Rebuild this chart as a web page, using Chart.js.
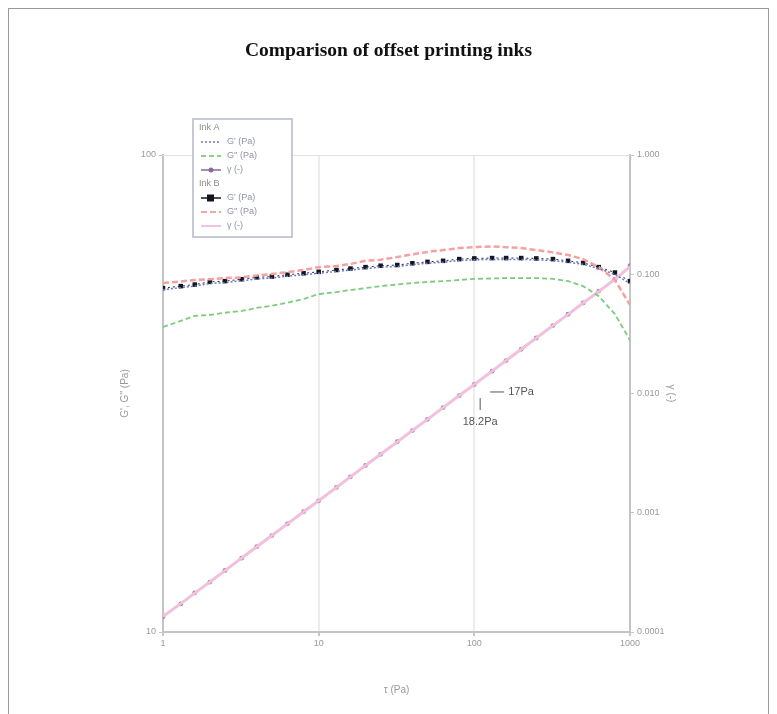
<!DOCTYPE html>
<html>
<head>
    <title>Comparison of offset printing inks</title>
    <script src="https://cdn.jsdelivr.net/npm/chart.js"></script>
    <style>
        body {
            margin: 0;
            background: #fff;
        }
        .frame {
            position: absolute;
            left: 8px;
            top: 8px;
            width: 759px;
            height: 730px;
            border: 1px solid #9a9a9a;
        }
        canvas {
            position: absolute;
            left: 0;
            top: 0;
        }
    </style>
</head>
<body>
    <div class="frame"></div>
    <canvas id="rheoChart" width="777" height="714"></canvas>

    <script>
        // shear stress steps (Pa), same for every series
        const tauSteps = [1, 1.3, 1.6, 2, 2.5, 3.2, 4, 5, 6.3, 8, 10, 13, 16, 20, 25, 32, 40, 50, 63, 80,
            100, 130, 160, 200, 250, 320, 400, 500, 630, 800, 1000];

        // Ink A
        const inkAStorage = [52.2, 52.7, 53.1, 53.8, 54.0, 54.5, 55.0, 55.2, 55.7, 56.1, 56.5, 57.0, 57.4, 57.8, 58.2,
            58.4, 58.9, 59.3, 59.6, 60.1, 60.3, 60.4, 60.4, 60.4, 60.3, 60.1, 59.6, 59.0, 57.8, 56.2, 53.8];
        const inkALoss = [43.6, 44.9, 46.0, 46.2, 46.7, 47.1, 47.8, 48.3, 49.0, 49.9, 51.1, 51.6, 52.1, 52.6, 53.1,
            53.5, 53.9, 54.2, 54.4, 54.7, 55.0, 55.1, 55.2, 55.2, 55.2, 55.0, 54.4, 53.1, 50.6, 46.4, 40.9];
        const inkAStrain = [0.000134, 0.000172, 0.000213, 0.000262, 0.000328, 0.000416, 0.000519, 0.000643, 0.000808, 0.00102,
            0.00126, 0.00163, 0.00200, 0.00249, 0.00309, 0.00394, 0.00489, 0.00607, 0.00762, 0.00960,
            0.0119, 0.0154, 0.0189, 0.0235, 0.0292, 0.0371, 0.0462, 0.0575, 0.0722, 0.0910, 0.118];

        // Ink B
        const inkBStorage = [52.6, 53.1, 53.5, 54.2, 54.4, 54.9, 55.4, 55.6, 56.1, 56.5, 56.9, 57.4, 57.8, 58.2, 58.6,
            58.8, 59.3, 59.7, 60.0, 60.5, 60.7, 60.8, 60.8, 60.8, 60.7, 60.5, 60.0, 59.4, 58.2, 56.7, 54.4];
        const inkBLoss = [53.9, 54.3, 54.7, 54.9, 55.2, 55.4, 55.9, 56.3, 56.8, 57.4, 58.2, 58.5, 59.1, 60.0, 60.3,
            61.1, 61.9, 62.6, 63.2, 63.8, 64.1, 64.3, 64.1, 63.8, 63.2, 62.5, 61.7, 60.5, 58.2, 54.7, 48.5];
        const inkBStrain = [0.000135, 0.000173, 0.000212, 0.000263, 0.000327, 0.000417, 0.000518, 0.000644, 0.000806, 0.00102,
            0.00126, 0.00163, 0.00200, 0.00249, 0.00309, 0.00393, 0.00489, 0.00607, 0.00761, 0.00961,
            0.0119, 0.0154, 0.0189, 0.0235, 0.0292, 0.0371, 0.0461, 0.0574, 0.0719, 0.0907, 0.116];

        const tauTicks = [1, 10, 100, 1000];
        const modulusTicks = [10, 100];
        const strainTicks = [0.0001, 0.001, 0.01, 0.1, 1];
        const strainLabels = ["0.0001", "0.001", "0.010", "0.100", "1.000"];

        // stress marks written next to the strain line
        const markTau = 109;
        const markStrain = 0.0103;
        const markUpper = "17Pa";
        const markLower = "18.2Pa";

        const legendRows = [
            { text: "Ink A" },
            { text: "G' (Pa)", color: "#6a78c8", dash: [2, 2] },
            { text: "G'' (Pa)", color: "#66c466", dash: [5, 3] },
            { text: "\u03b3 (-)", color: "#8a6a9a", point: "circle" },
            { text: "Ink B" },
            { text: "G' (Pa)", color: "#15151f", point: "rect" },
            { text: "G'' (Pa)", color: "#f08a8a", dash: [6, 3] },
            { text: "\u03b3 (-)", color: "#eab0d0" }
        ];

        function pairs(xs, ys) {
            return xs.map((x, i) => ({ x: x, y: ys[i] }));
        }

        const tickFont = { family: "'Liberation Sans', Arial, sans-serif", size: 9 };
        const tickColor = "#9a9a9a";

        const insideLegend = {
            id: "insideLegend",
            afterDraw(chart) {
                const ctx = chart.ctx;
                const left = 193, top = 119, w = 99, h = 118;
                ctx.save();
                ctx.fillStyle = "#fff";
                ctx.fillRect(left, top, w, h);
                ctx.strokeStyle = "#b4b8cc";
                ctx.lineWidth = 1.5;
                ctx.strokeRect(left, top, w, h);
                ctx.font = "9px 'Liberation Sans', Arial, sans-serif";
                ctx.textBaseline = "middle";
                legendRows.forEach((row, i) => {
                    const y = top + 9 + i * 14;
                    if (!row.color) {
                        ctx.fillStyle = "#8a8a8a";
                        ctx.fillText(row.text, left + 6, y);
                        return;
                    }
                    ctx.strokeStyle = row.color;
                    ctx.fillStyle = row.color;
                    ctx.lineWidth = 1.5;
                    ctx.setLineDash(row.dash || []);
                    ctx.beginPath();
                    ctx.moveTo(left + 8, y);
                    ctx.lineTo(left + 28, y);
                    ctx.stroke();
                    ctx.setLineDash([]);
                    if (row.point === "rect") {
                        ctx.fillRect(left + 14, y - 3.5, 7, 7);
                    } else if (row.point === "circle") {
                        ctx.beginPath();
                        ctx.arc(left + 18, y, 2.5, 0, Math.PI * 2);
                        ctx.fill();
                    }
                    ctx.fillStyle = "#9094a8";
                    ctx.fillText(row.text, left + 34, y);
                });
                ctx.restore();
            }
        };

        const extras = {
            id: "extras",
            beforeDatasetsDraw(chart) {
                const { ctx, chartArea } = chart;
                ctx.save();
                ctx.strokeStyle = "#e2e2e2";
                ctx.lineWidth = 1;
                ctx.beginPath();
                ctx.moveTo(chartArea.left, chartArea.top + 0.5);
                ctx.lineTo(chartArea.right, chartArea.top + 0.5);
                ctx.stroke();
                ctx.restore();
            },
            afterDatasetsDraw(chart) {
                const ctx = chart.ctx;
                const px = chart.scales.x.getPixelForValue(markTau);
                const py = chart.scales.y1.getPixelForValue(markStrain);
                ctx.save();
                ctx.strokeStyle = "#555";
                ctx.fillStyle = "#555";
                ctx.lineWidth = 1;
                ctx.beginPath();
                ctx.moveTo(px + 10, py);
                ctx.lineTo(px + 24, py);
                ctx.moveTo(px, py + 6);
                ctx.lineTo(px, py + 18);
                ctx.stroke();
                ctx.font = "11px 'Liberation Sans', Arial, sans-serif";
                ctx.textBaseline = "middle";
                ctx.textAlign = "left";
                ctx.fillText(markUpper, px + 28, py);
                ctx.textAlign = "center";
                ctx.fillText(markLower, px, py + 30);
                ctx.restore();
            }
        };

        new Chart(document.getElementById("rheoChart").getContext("2d"), {
            type: "line",
            data: {
                datasets: [
                    {
                        label: "Ink A G'",
                        data: pairs(tauSteps, inkAStorage),
                        yAxisID: "y",
                        borderColor: "#6a78c8",
                        borderWidth: 1.5,
                        borderDash: [2, 2],
                        pointRadius: 0
                    },
                    {
                        label: "Ink A G''",
                        data: pairs(tauSteps, inkALoss),
                        yAxisID: "y",
                        borderColor: "#7ccc7c",
                        borderWidth: 1.8,
                        borderDash: [5, 3],
                        pointRadius: 0
                    },
                    {
                        label: "Ink B G''",
                        data: pairs(tauSteps, inkBLoss),
                        yAxisID: "y",
                        borderColor: "#f6a0a0",
                        borderWidth: 2.5,
                        borderDash: [6, 3],
                        pointRadius: 0
                    },
                    {
                        label: "Ink B \u03b3",
                        data: pairs(tauSteps, inkBStrain),
                        yAxisID: "y1",
                        borderColor: "#f0c0dc",
                        borderWidth: 3,
                        pointRadius: 0
                    },
                    {
                        label: "Ink A \u03b3",
                        data: pairs(tauSteps, inkAStrain),
                        yAxisID: "y1",
                        showLine: false,
                        pointStyle: "circle",
                        pointRadius: 2.4,
                        pointBackgroundColor: "#a084a8",
                        pointBorderWidth: 0
                    },
                    {
                        label: "Ink B G'",
                        data: pairs(tauSteps, inkBStorage),
                        yAxisID: "y",
                        borderColor: "#2a2a3a",
                        borderWidth: 1,
                        borderDash: [2, 3],
                        pointStyle: "rect",
                        pointRadius: 3.2,
                        pointBackgroundColor: "#15151f",
                        pointBorderWidth: 0
                    }
                ]
            },
            options: {
                responsive: false,
                animation: false,
                devicePixelRatio: 1,
                layout: { padding: 0 },
                plugins: {
                    legend: { display: false },
                    tooltip: { enabled: false },
                    title: {
                        display: true,
                        text: "Comparison of offset printing inks",
                        color: "#111",
                        font: { family: "'Liberation Serif', 'Times New Roman', serif", size: 19.5, weight: "bold", lineHeight: 1.2 },
                        padding: { top: 39, bottom: 92.6 }
                    }
                },
                scales: {
                    x: {
                        type: "logarithmic",
                        min: 1,
                        max: 1000,
                        afterBuildTicks: s => { s.ticks = tauTicks.map(v => ({ value: v })); },
                        afterFit: s => { s.height = 82; },
                        ticks: {
                            color: tickColor,
                            font: tickFont,
                            padding: 2,
                            maxRotation: 0,
                            callback: v => String(v)
                        },
                        grid: { color: "#ececec", lineWidth: 2, tickLength: 4, tickColor: "#c8c8c8" },
                        border: { color: "#c4c4c4", width: 2 },
                        title: {
                            display: true,
                            text: "\u03c4 (Pa)",
                            color: tickColor,
                            font: { family: "'Liberation Sans', Arial, sans-serif", size: 10, lineHeight: 1.2 },
                            padding: { top: 0, bottom: 18 }
                        }
                    },
                    y: {
                        type: "logarithmic",
                        position: "left",
                        min: 10,
                        max: 100,
                        afterBuildTicks: s => { s.ticks = modulusTicks.map(v => ({ value: v })); },
                        afterFit: s => { s.width = 163; },
                        ticks: {
                            color: tickColor,
                            font: tickFont,
                            padding: 3,
                            callback: v => String(v)
                        },
                        grid: { drawOnChartArea: false, tickLength: 4, tickColor: "#c8c8c8" },
                        border: { color: "#c4c4c4", width: 2 },
                        title: {
                            display: true,
                            text: "G', G'' (Pa)",
                            color: tickColor,
                            font: { family: "'Liberation Sans', Arial, sans-serif", size: 10, lineHeight: 1.2 },
                            padding: { top: 119, bottom: 0 }
                        }
                    },
                    y1: {
                        type: "logarithmic",
                        position: "right",
                        min: 0.0001,
                        max: 1,
                        afterBuildTicks: s => { s.ticks = strainTicks.map(v => ({ value: v })); },
                        afterFit: s => { s.width = 147; },
                        ticks: {
                            color: tickColor,
                            font: tickFont,
                            padding: 3,
                            callback: (v, i) => strainLabels[i]
                        },
                        grid: { drawOnChartArea: false, tickLength: 4, tickColor: "#c8c8c8" },
                        border: { color: "#c4c4c4", width: 2 },
                        title: {
                            display: true,
                            text: "\u03b3 (-)",
                            color: tickColor,
                            font: { family: "'Liberation Sans', Arial, sans-serif", size: 10, lineHeight: 1.2 },
                            padding: { top: 100, bottom: 0 }
                        }
                    }
                }
            },
            plugins: [extras, insideLegend]
        });
    </script>
</body>
</html>
